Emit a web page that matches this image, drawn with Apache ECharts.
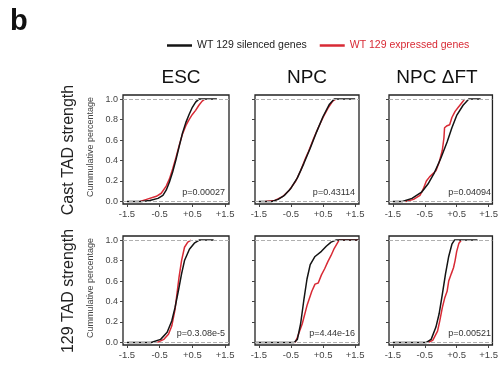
<!DOCTYPE html>
<html><head><meta charset="utf-8">
<script src="https://cdn.jsdelivr.net/npm/echarts@6/dist/echarts.min.js"></script>
<style>html,body{margin:0;padding:0;background:#fff}#c{width:501px;height:366px}</style>
</head><body><div id="c"></div>
<script>
// ---- data ----
const panelLetter = 'b';
const conditions = ['ESC', 'NPC', 'NPC ΔFT'];
const rowLabels = ['Cast TAD strength', '129 TAD strength'];
const yAxisTitle = 'Cummulative percentage';
const seriesNames = ['WT 129 silenced genes', 'WT 129 expressed genes'];
const xTicks = [-1.5, -0.5, 0.5, 1.5];
const yTicks = [0, 0.2, 0.4, 0.6, 0.8, 1.0];
const pValues = ['p=0.00027', 'p=0.43114', 'p=0.04094', 'p=0.3.08e-5', 'p=4.44e-16', 'p=0.00521'];

// cumulative curves: [TAD strength, cumulative fraction]
const escCastSilenced = [[-1.5,0],[-1.05,0],[-0.8,0.01],[-0.55,0.03],[-0.4,0.06],[-0.3,0.11],[-0.2,0.19],[-0.1,0.29],[0,0.41],[0.1,0.54],[0.2,0.67],[0.3,0.77],[0.4,0.85],[0.5,0.92],[0.6,0.97],[0.7,1.0],[1.25,1.0]];
const escCastExpressed = [[-1.1,0],[-0.9,0.02],[-0.6,0.05],[-0.45,0.08],[-0.3,0.15],[-0.2,0.22],[-0.1,0.32],[0,0.43],[0.1,0.55],[0.2,0.66],[0.3,0.74],[0.4,0.8],[0.5,0.85],[0.6,0.89],[0.7,0.94],[0.8,0.98],[0.88,1.0]];
const npcCastSilenced = [[-1.5,0],[-1.1,0],[-0.9,0.02],[-0.7,0.06],[-0.5,0.13],[-0.3,0.23],[-0.1,0.37],[0.1,0.52],[0.3,0.68],[0.5,0.83],[0.7,0.95],[0.85,1.0],[1.5,1.0]];
const npcCastExpressed = [[-1.3,0],[-1.0,0.01],[-0.75,0.05],[-0.55,0.11],[-0.35,0.2],[-0.2,0.3],[-0.05,0.42],[0.05,0.49],[0.2,0.61],[0.35,0.72],[0.5,0.82],[0.65,0.91],[0.8,0.98],[0.9,1.0]];
const ftCastSilenced = [[-1.5,0],[-1.2,0],[-0.9,0.03],[-0.6,0.09],[-0.4,0.17],[-0.2,0.28],[0,0.42],[0.2,0.58],[0.35,0.72],[0.5,0.84],[0.7,0.94],[0.88,1.0],[1.25,1.0]];
const ftCastExpressed = [[-1.1,0],[-0.85,0.02],[-0.65,0.06],[-0.55,0.12],[-0.45,0.2],[-0.35,0.24],[-0.25,0.27],[-0.15,0.3],[-0.05,0.38],[0.05,0.5],[0.1,0.62],[0.12,0.72],[0.2,0.74],[0.28,0.75],[0.35,0.82],[0.45,0.88],[0.55,0.92],[0.65,0.96],[0.75,1.0]];
const esc129Silenced = [[-1.5,0],[-0.76,0],[-0.47,0.03],[-0.27,0.1],[-0.13,0.21],[-0.03,0.34],[0.07,0.5],[0.17,0.67],[0.26,0.8],[0.41,0.91],[0.56,0.97],[0.71,1.0],[1.15,1.0]];
const esc129Expressed = [[-0.57,0],[-0.37,0.03],[-0.23,0.08],[-0.13,0.16],[-0.03,0.32],[0.02,0.45],[0.09,0.63],[0.17,0.8],[0.26,0.93],[0.36,0.98],[0.46,1.0]];
const npc129Silenced = [[-1.6,0],[-0.4,0],[-0.3,0.03],[-0.2,0.18],[-0.1,0.41],[0,0.62],[0.1,0.76],[0.25,0.84],[0.45,0.89],[0.6,0.94],[0.75,0.98],[0.9,1.0],[1.6,1.0]];
const npc129Expressed = [[-0.37,0],[-0.3,0.05],[-0.15,0.18],[0,0.36],[0.15,0.5],[0.25,0.57],[0.35,0.58],[0.45,0.66],[0.55,0.72],[0.65,0.79],[0.75,0.85],[0.85,0.92],[1.0,1.0],[1.6,1.0]];
const ft129Silenced = [[-1.5,0],[-0.45,0],[-0.3,0.03],[-0.15,0.15],[-0.05,0.28],[0.05,0.47],[0.15,0.67],[0.25,0.84],[0.35,0.96],[0.43,1.0],[1.15,1.0]];
const ft129Expressed = [[-0.4,0],[-0.25,0.02],[-0.1,0.11],[-0.03,0.21],[0.05,0.34],[0.13,0.44],[0.2,0.5],[0.25,0.6],[0.33,0.67],[0.4,0.73],[0.45,0.8],[0.5,0.89],[0.57,0.97],[0.65,1.0]];

const silencedCurves = [escCastSilenced, npcCastSilenced, ftCastSilenced, esc129Silenced, npc129Silenced, ft129Silenced];
const expressedCurves = [escCastExpressed, npcCastExpressed, ftCastExpressed, esc129Expressed, npc129Expressed, ft129Expressed];

// ---- layout / style ----
const FONT = '"Liberation Sans", Arial, Helvetica, sans-serif';
const BLACK = '#141414', RED = '#d82a35';
const colLeft = [123, 255, 389];
const colWidth = [106, 104, 106];
const rowTop = [95, 236];
const rowHeight = 109;
const titleX = [181, 307, 437];

const chart = echarts.init(document.getElementById('c'), null, {renderer: 'canvas'});
const grids = [], xAxes = [], yAxes = [], series = [], graphics = [];

for (let r = 0; r < 2; r++) {
  for (let c = 0; c < 3; c++) {
    const i = r * 3 + c;
    grids.push({left: colLeft[c], top: rowTop[r], width: colWidth[c], height: rowHeight,
      show: true, borderColor: '#222', borderWidth: 1.3, backgroundColor: 'transparent'});
    xAxes.push({type: 'value', gridIndex: i, min: -1.62, max: 1.62,
      axisLine: {show: false, onZero: false}, splitLine: {show: false},
      axisTick: {show: true, customValues: xTicks, length: 3, lineStyle: {color: '#444'}},
      axisLabel: {show: true, customValues: xTicks, margin: 5, fontSize: 9.5, color: '#444', fontFamily: FONT,
        formatter: v => (v > 0 ? '+' : '') + v.toFixed(1)}});
    yAxes.push({type: 'value', gridIndex: i, min: -0.025, max: 1.04,
      axisLine: {show: false, onZero: false}, splitLine: {show: false},
      axisTick: {show: true, customValues: yTicks, length: 3, lineStyle: {color: '#444'}},
      axisLabel: {show: c === 0, customValues: yTicks, margin: 5, fontSize: 9, color: '#444', fontFamily: FONT,
        formatter: v => v.toFixed(1)}});
    series.push({name: seriesNames[1], type: 'line', xAxisIndex: i, yAxisIndex: i,
      data: expressedCurves[i], showSymbol: false, symbol: 'none', color: RED,
      lineStyle: {width: 1.5, color: RED}, z: 3,
      markLine: {silent: true, symbol: 'none', label: {show: false},
        lineStyle: {type: 'dashed', color: '#b0b0b0', width: 1},
        data: [{yAxis: 0}, {yAxis: 1}]}});
    series.push({name: seriesNames[0], type: 'line', xAxisIndex: i, yAxisIndex: i,
      data: silencedCurves[i], showSymbol: false, symbol: 'none', color: BLACK,
      lineStyle: {width: 1.5, color: BLACK}, z: 4});
    graphics.push({type: 'text', x: colLeft[c] + colWidth[c] - 4, y: rowTop[r] + rowHeight - 11,
      style: {text: pValues[i], fill: '#333', font: '9px ' + FONT, textAlign: 'right', textVerticalAlign: 'middle'}});
  }
}

graphics.push({type: 'text', x: 10, y: 22, style: {text: panelLetter, fill: '#111', font: 'bold 29px ' + FONT, textAlign: 'left', textVerticalAlign: 'middle'}});
conditions.forEach((t, c) => graphics.push({type: 'text', x: titleX[c], y: 78,
  style: {text: t, fill: '#111', font: '19px ' + FONT, textAlign: 'center', textVerticalAlign: 'middle'}}));
rowLabels.forEach((t, r) => {
  const cy = rowTop[r] + 55;
  graphics.push({type: 'text', x: 69, y: cy, rotation: Math.PI / 2,
    style: {text: t, fill: '#222', font: '16px ' + FONT, textAlign: 'center', textVerticalAlign: 'middle'}});
  graphics.push({type: 'text', x: 91, y: cy - 3, rotation: Math.PI / 2,
    style: {text: yAxisTitle, fill: '#444', font: '9px ' + FONT, textAlign: 'center', textVerticalAlign: 'middle'}});
});

chart.setOption({
  animation: false,
  backgroundColor: '#fff',
  legend: {left: 162, top: 35, icon: 'rect', itemWidth: 25, itemHeight: 2.5, itemGap: 13,
    textStyle: {fontSize: 10.5, fontFamily: FONT},
    data: [{name: seriesNames[0], textStyle: {color: '#222'}}, {name: seriesNames[1], textStyle: {color: RED}}]},
  grid: grids, xAxis: xAxes, yAxis: yAxes, series: series, graphic: graphics
});
</script></body></html>
